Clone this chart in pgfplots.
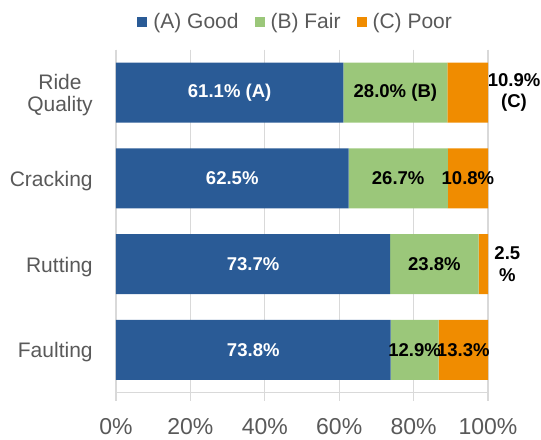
\documentclass[border=0pt]{standalone}
\usepackage{fontspec}
\setmainfont{Liberation Sans}
\usepackage{pgfplots}
\pgfplotsset{compat=1.18}
\definecolor{cgood}{HTML}{2A5B96}
\definecolor{cfair}{HTML}{9BC77A}
\definecolor{cpoor}{HTML}{F08C00}
\definecolor{ctext}{HTML}{595959}
\definecolor{cgrid}{HTML}{D9D9D9}
\tikzset{lbl/.style={font=\bfseries\fontsize{13.9}{16}\selectfont, align=center, inner sep=0pt}}
\begin{document}
\begin{tikzpicture}
\begin{axis}[
  name=ax,
  xbar stacked,
  scale only axis,
  width=279pt, height=257.25pt,
  xmin=0, xmax=100,
  ymin=-0.5, ymax=3.5,
  y dir=reverse,
  bar width=45pt,
  clip=false,
  axis x line*=bottom,
  axis y line*=left,
  axis line style={cgrid, line width=1pt},
  xtick={0,20,40,60,80,100},
  xticklabel={\pgfmathprintnumber{\tick}\%},
  /pgf/number format/assume math mode=true,
  xticklabel style={font=\fontsize{17.25}{20}\selectfont, text=ctext, yshift=-10pt},
  x tick style={cgrid, line width=1pt},
  tick align=outside,
  major tick length=6pt,
  xmajorgrids,
  grid style={cgrid, line width=1pt},
  ytick={0,1,2,3},
  yticklabels={{Ride\\Quality},Cracking,Rutting,Faulting},
  yticklabel style={align=center, font=\fontsize{15.75}{16.5}\selectfont, text=ctext, xshift=-8pt, yshift=-2pt},
  y tick style={draw=none},
  legend columns=3,
  legend style={at={(0.5,1)}, anchor=center, yshift=21pt, xshift=-4.5pt, draw=none, fill=none,
    font=\fontsize{15.75}{18}\selectfont, text=ctext,
    /tikz/every even column/.append style={column sep=10pt}},
  legend cell align=left,
]
\addplot[fill=cgood, draw=none, legend image code/.code={\fill[cgood] (0pt,-3.75pt) rectangle (7.5pt,3.75pt); \path (0pt,0pt) (10pt,0pt);}]
  coordinates {(61.1,0) (62.5,1) (73.7,2) (73.8,3)};
\addplot[fill=cfair, draw=none, legend image code/.code={\fill[cfair] (0pt,-3.75pt) rectangle (7.5pt,3.75pt); \path (0pt,0pt) (10pt,0pt);}]
  coordinates {(28.0,0) (26.7,1) (23.8,2) (12.9,3)};
\addplot[fill=cpoor, draw=none, legend image code/.code={\fill[cpoor] (0pt,-3.75pt) rectangle (7.5pt,3.75pt); \path (0pt,0pt) (10pt,0pt);}]
  coordinates {(10.9,0) (10.8,1) (2.5,2) (13.3,3)};
\legend{(A) Good,(B) Fair,(C) Poor}
\coordinate (l1) at (axis cs:30.55,0);
\coordinate (l2) at (axis cs:75.1,0);
\coordinate (l3) at (axis cs:107.0,0);
\coordinate (l4) at (axis cs:31.25,1);
\coordinate (l5) at (axis cs:75.85,1);
\coordinate (l6) at (axis cs:94.6,1);
\coordinate (l7) at (axis cs:36.85,2);
\coordinate (l8) at (axis cs:85.6,2);
\coordinate (l9) at (axis cs:105.2,2);
\coordinate (l10) at (axis cs:36.9,3);
\coordinate (l11) at (axis cs:80.25,3);
\coordinate (l12) at (axis cs:93.35,3);
\end{axis}
\node[lbl, white] at (l1) {61.1\% (A)};
\node[lbl] at (l2) {28.0\% (B)};
\node[lbl] at (l3) {10.9\%\\(C)};
\node[lbl, white] at (l4) {62.5\%};
\node[lbl] at (l5) {26.7\%};
\node[lbl] at (l6) {10.8\%};
\node[lbl, white] at (l7) {73.7\%};
\node[lbl] at (l8) {23.8\%};
\node[lbl] at (l9) {2.5\\\%};
\node[lbl, white] at (l10) {73.8\%};
\node[lbl] at (l11) {12.9\%};
\node[lbl] at (l12) {13.3\%};
\path (ax.south west) ++(-87pt,-29.5pt) rectangle ++(405.75pt,324pt);
\end{tikzpicture}
\end{document}
